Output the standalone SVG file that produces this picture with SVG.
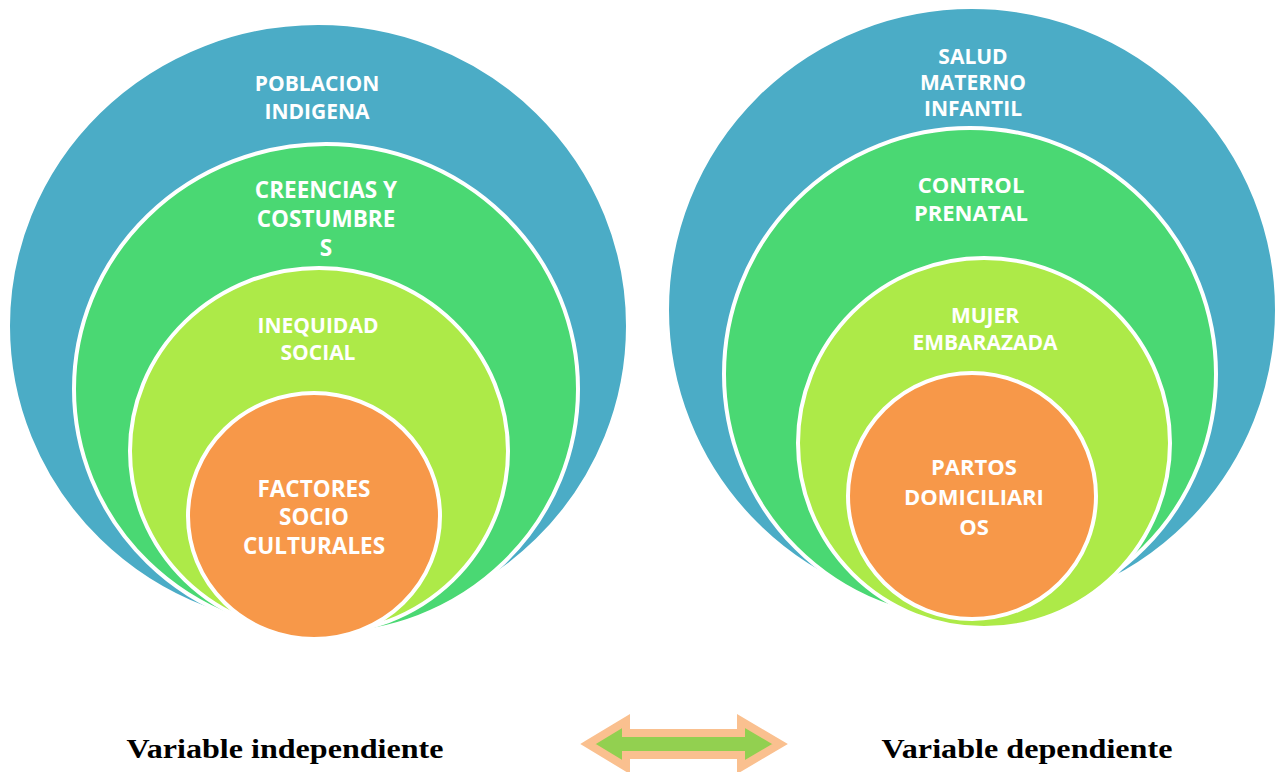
<svg xmlns="http://www.w3.org/2000/svg" width="1287" height="772" viewBox="0 0 1287 772">
<style>
.c{stroke:#ffffff;stroke-width:4}
.b{fill:#4BACC6}
.g{fill:#4AD873}
.l{fill:#ADEA48}
.o{fill:#F79849}
.t{font-family:"Open Sans","Noto Sans",sans-serif;font-weight:700;font-size:21px;fill:#ffffff;text-anchor:middle}
.t2{font-size:22.5px}
.t3{font-size:22px}
.v{font-family:"Liberation Serif","Times New Roman",serif;font-weight:700;font-size:27px;fill:#000000;text-anchor:middle}
</style>
<rect width="1287" height="772" fill="#ffffff"/>
<g id="left-poblacion"><ellipse class="c b" cx="318" cy="326" rx="310" ry="303"/>
<text class="t" x="317" y="91">POBLACION</text><text class="t" x="317" y="119">INDIGENA</text></g>
<g id="left-creencias"><ellipse class="c g" cx="326" cy="389" rx="252" ry="245"/>
<text class="t t2" x="326" y="198">CREENCIAS Y</text><text class="t t2" x="326" y="227">COSTUMBRE</text><text class="t t2" x="326" y="256">S</text></g>
<g id="left-inequidad"><ellipse class="c l" cx="319" cy="451" rx="189" ry="183"/>
<text class="t" x="318" y="333">INEQUIDAD</text><text class="t" x="318" y="360">SOCIAL</text></g>
<g id="left-factores"><ellipse class="c o" cx="314" cy="516" rx="126" ry="123"/>
<text class="t t2" x="314" y="497">FACTORES</text><text class="t t2" x="314" y="525">SOCIO</text><text class="t t2" x="314" y="554">CULTURALES</text></g>
<g id="right-salud"><ellipse class="c b" cx="972" cy="310" rx="305" ry="303"/>
<text class="t" x="973" y="64">SALUD</text><text class="t" x="973" y="90">MATERNO</text><text class="t" x="973" y="116">INFANTIL</text></g>
<g id="right-control"><ellipse class="c g" cx="970" cy="374" rx="246" ry="246"/>
<text class="t t3" x="971" y="193">CONTROL</text><text class="t t3" x="971" y="221">PRENATAL</text></g>
<g id="right-mujer"><ellipse class="c l" cx="984" cy="443" rx="186" ry="185"/>
<text class="t" x="985" y="323">MUJER</text><text class="t" x="985" y="350">EMBARAZADA</text></g>
<g id="right-partos"><ellipse class="c o" cx="972" cy="496" rx="124" ry="123"/>
<text class="t t3" x="974" y="475">PARTOS</text><text class="t t3" x="974" y="505">DOMICILIARI</text><text class="t t3" x="974" y="535">OS</text></g>
<g id="connectors"><polygon points="588,744 626,721 626,733 741,733 741,721 780,744 741,767 741,755 626,755 626,767" fill="#92D050" stroke="#FAC08F" stroke-width="8" stroke-linejoin="miter"/></g>
<g id="label-independiente"><text class="v" x="285" y="758" textLength="317" lengthAdjust="spacingAndGlyphs">Variable independiente</text></g>
<g id="label-dependiente"><text class="v" x="1027" y="758" textLength="291" lengthAdjust="spacingAndGlyphs">Variable dependiente</text></g>
</svg>
